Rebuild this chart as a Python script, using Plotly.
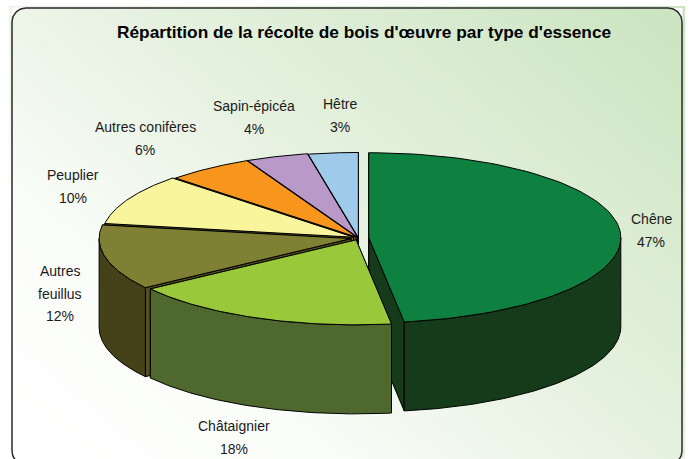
import numpy as np
import plotly.graph_objects as go

# Data, clockwise from 12 o'clock
categories = ["Chêne", "Châtaignier", "Autres feuillus", "Peuplier",
              "Autres conifères", "Sapin-épicéa", "Hêtre"]
values = [47.9, 17.5, 12.4, 9.7, 5.6, 4.0, 3.2]
percent_labels = ["47%", "18%", "12%", "10%", "6%", "4%", "3%"]

label_lines = [["Chêne"], ["Châtaignier"], ["Autres", "feuillus"], ["Peuplier"],
               ["Autres conifères"], ["Sapin-épicéa"], ["Hêtre"]]
label_x = [651, 234, 60, 73, 145, 254, 340]
label_y0 = [219, 426, 271, 175, 127, 106, 104]

top_colors = ["#0e8040", "#99c93b", "#7f8033", "#f8f59d", "#f8951d", "#b899c8", "#9fcbeb"]
wall_colors = ["#163b1a", "#4f682e", "#45421a", "#6f6d35", "#7a4a10", "#4f3f60", "#3f5a70"]
cut_colors = ["#163b1a", "#4f682e", "#54511f", "#6f6d35", "#7a4a10", "#4f3f60", "#3f5a70"]
explode = [0.041, 0.024, 0.03, 0.022, 0.012, 0.012, 0.006]
draw_order = [6, 5, 4, 3, 2, 0, 1]

CX, CY, RX, RY, DEPTH = 358.5, 238.0, 252.0, 85.0, 89.0
PANEL = (12, 8, 682, 465)
R = 14

fig = go.Figure()

# Background gradient
gx = np.linspace(PANEL[0], PANEL[2], 120)
gy = np.linspace(PANEL[1], PANEL[3], 120)
X, Y = np.meshgrid(gx, gy)
Z = 0.55 * (X - PANEL[0]) / (PANEL[2] - PANEL[0]) + 0.45 * (PANEL[3] - Y) / (PANEL[3] - PANEL[1])
fig.add_trace(go.Heatmap(x=gx, y=gy, z=Z, zmin=0, zmax=1, zsmooth="best", showscale=False, hoverinfo="skip",
                         colorscale=[[0, "#ffffff"], [0.25, "#fbfdfa"], [0.5, "#e9f3e4"], [1, "#cbe4c0"]]))


def poly(xs, ys, fill, line="#000000", width=1):
    fig.add_trace(go.Scatter(x=xs, y=ys, mode="lines", fill="toself", fillcolor=fill,
                             line=dict(color=line, width=width), hoverinfo="skip", showlegend=False))


# corner masks and panel border
corners = [(PANEL[0], PANEL[1], 180, 270), (PANEL[2], PANEL[1], 270, 360),
           (PANEL[2], PANEL[3], 0, 90), (PANEL[0], PANEL[3], 90, 180)]
bx, by = [], []
for (px, py, a0, a1) in corners:
    sx = 1 if px == PANEL[0] else -1
    sy = 1 if py == PANEL[1] else -1
    a = np.radians(np.linspace(a0, a1, 16))
    ax = px + sx * R + R * np.cos(a)
    ay = py + sy * R + R * np.sin(a)
    poly(list(ax) + [px], list(ay) + [py], "#ffffff", line="#ffffff", width=1)
    bx += list(ax)
    by += list(ay)
fig.add_trace(go.Scatter(x=bx + bx[:1], y=by + by[:1], mode="lines", line=dict(color="#2a2a2a", width=1.5),
                         hoverinfo="skip", showlegend=False))

# Pie slices
total = sum(values)
edges = np.concatenate([[0], np.cumsum(values)]) / total * 2 * np.pi
for i in draw_order:
    t0, t1 = edges[i], edges[i + 1]
    mid = (t0 + t1) / 2
    cx = CX + explode[i] * RX * np.sin(mid)
    cy = CY - explode[i] * RY * np.cos(mid)
    t = np.linspace(t0, t1, 90)
    ax = cx + RX * np.sin(t)
    ay = cy - RY * np.cos(t)
    # cut faces: the one reaching lowest on screen is drawn last
    for tt in sorted((t0, t1), key=lambda a: -np.cos(a)):
        ex, ey = cx + RX * np.sin(tt), cy - RY * np.cos(tt)
        poly([cx, ex, ex, cx, cx], [cy, ey, ey + DEPTH, cy + DEPTH, cy], cut_colors[i])
    # outer wall: only the front-facing part of the rim
    w0, w1 = max(t0, np.pi / 2), min(t1, 3 * np.pi / 2)
    if w1 > w0:
        tw = np.linspace(w0, w1, 90)
        wx = cx + RX * np.sin(tw)
        wy = cy - RY * np.cos(tw)
        poly(list(wx) + list(wx[::-1]) + [wx[0]], list(wy) + list(wy[::-1] + DEPTH) + [wy[0]], wall_colors[i])
    # top
    poly([cx] + list(ax) + [cx], [cy] + list(ay) + [cy], top_colors[i])

ann = []
LH = 22.7
for name_lines, pct, x, y0 in zip(label_lines, percent_labels, label_x, label_y0):
    for k, txt in enumerate(name_lines + [pct]):
        ann.append(dict(x=x, y=y0 + k * LH, text=txt, showarrow=False, xanchor="center", yanchor="middle",
                        font=dict(family="Liberation Sans", size=14, color="#1a1a1a")))
ann.append(dict(x=364, y=32, text="Répartition de la récolte de bois d'œuvre par type d'essence", showarrow=False,
                xanchor="center", yanchor="middle",
                font=dict(family="Liberation Sans", size=17.3, color="#000000", weight="bold")))

fig.update_layout(width=698, height=459, margin=dict(l=0, r=0, t=0, b=0), paper_bgcolor="#ffffff",
                  plot_bgcolor="#ffffff", showlegend=False, annotations=ann,
                  xaxis=dict(range=[0, 698], visible=False, fixedrange=True),
                  yaxis=dict(range=[459, 0], visible=False, fixedrange=True))
fig.write_html("out.html", config={"displayModeBar": False},
               post_script="document.body.style.margin='0';document.documentElement.style.overflow='hidden';")
